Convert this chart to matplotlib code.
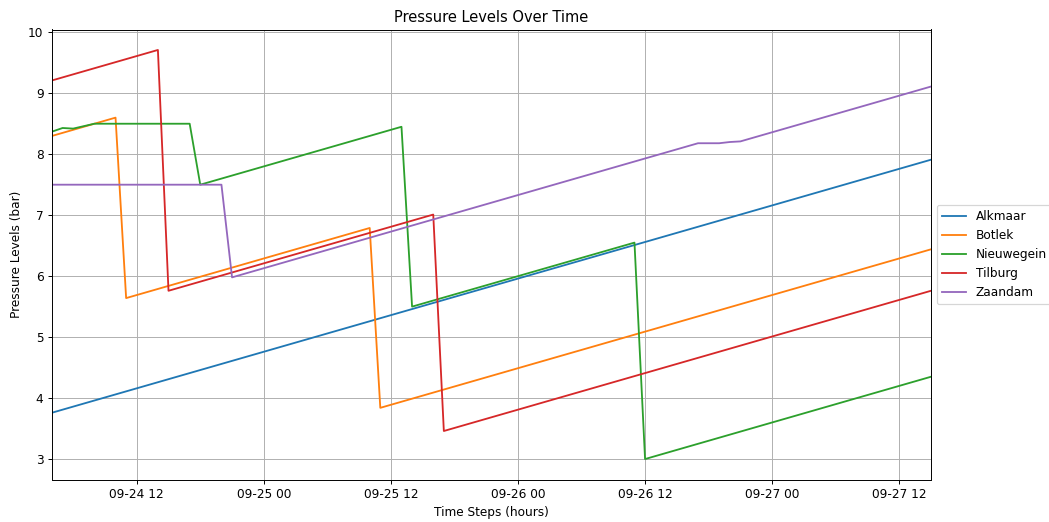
import matplotlib
matplotlib.use("Agg")
import matplotlib.pyplot as plt
import matplotlib.dates as mdates
import pandas as pd

# Series vertices: hour offset from the start time and pressure in bar.
start_time = pd.Timestamp("2023-09-24 04:00")
end_hour = 83

alkmaar_hours = [0, 83]
alkmaar_bar = [3.76, 7.91]

botlek_hours = [0, 6, 7, 30, 31, 83]
botlek_bar = [8.30, 8.60, 5.64, 6.79, 3.84, 6.44]

nieuwegein_hours = [0, 1, 2, 4, 13, 14, 33, 34, 55, 56, 83]
nieuwegein_bar = [8.37, 8.43, 8.42, 8.50, 8.50, 7.50, 8.45, 5.50, 6.55, 3.00, 4.35]

tilburg_hours = [0, 10, 11, 36, 37, 83]
tilburg_bar = [9.21, 9.71, 5.76, 7.01, 3.46, 5.76]

zaandam_hours = [0, 16, 17, 61, 63, 64, 65, 83]
zaandam_bar = [7.50, 7.50, 5.98, 8.18, 8.18, 8.20, 8.21, 9.11]

series = [
    ("Alkmaar", alkmaar_hours, alkmaar_bar),
    ("Botlek", botlek_hours, botlek_bar),
    ("Nieuwegein", nieuwegein_hours, nieuwegein_bar),
    ("Tilburg", tilburg_hours, tilburg_bar),
    ("Zaandam", zaandam_hours, zaandam_bar),
]

dpi = 87.4
fig = plt.figure(figsize=(1049 / dpi, 522 / dpi), dpi=dpi)
ax = fig.add_axes([52 / 1049, 1 - 479.5 / 522, 879 / 1049, 450 / 522])

for name, hours, values in series:
    times = start_time + pd.to_timedelta(hours, unit="h")
    ax.plot(times, values, label=name, linewidth=1.5)

ax.set_xlim(start_time, start_time + pd.Timedelta(hours=end_hour))
ax.xaxis.set_major_locator(mdates.HourLocator(byhour=[0, 12]))
ax.xaxis.set_major_formatter(mdates.DateFormatter("%m-%d %H"))

ax.set_title("Pressure Levels Over Time")
ax.set_xlabel("Time Steps (hours)")
ax.set_ylabel("Pressure Levels (bar)")
ax.grid(True)
ax.legend(loc="center left", bbox_to_anchor=(1.0, 0.5))

fig.savefig("out.png", dpi=dpi)
